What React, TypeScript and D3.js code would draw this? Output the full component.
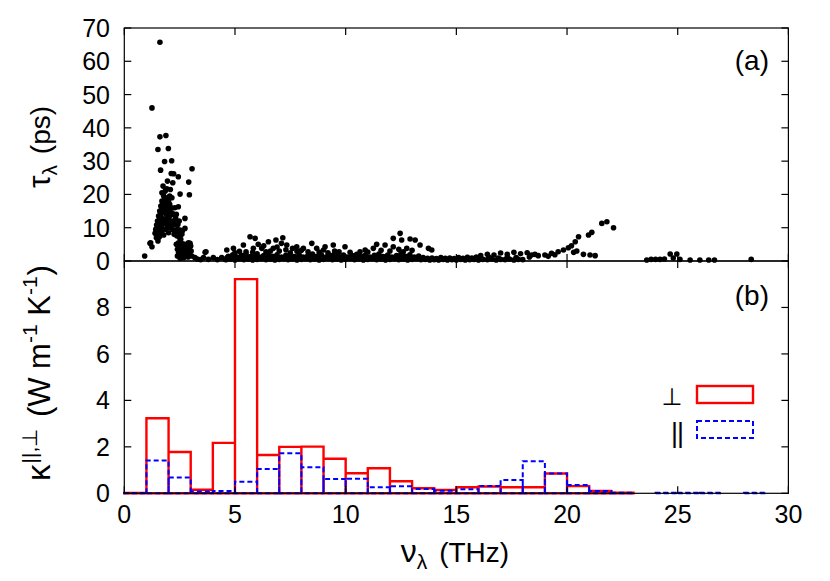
import * as d3 from "d3";

// ---- data ----
// histogram bins (lower edge, THz), width 1 THz
const binLow = [0, 1, 2, 3, 4, 5, 6, 7, 8, 9, 10, 11, 12, 13, 14, 15, 16, 17, 18, 19, 20, 21, 22, 23, 24, 25, 26, 27, 28, 29];
const kappaPerp = [0.01, 3.23, 1.78, 0.15, 2.17, 9.22, 1.65, 2.0, 2.01, 1.49, 0.86, 1.08, 0.52, 0.22, 0.14, 0.26, 0.29, 0.26, 0.26, 0.85, 0.31, 0.1, 0.03, 0, 0, 0, 0, 0, 0, 0];
const kappaPar = [0.01, 1.41, 0.68, 0.08, 0.1, 0.5, 1.05, 1.72, 1.12, 0.62, 0.63, 0.26, 0.3, 0.19, 0.11, 0.17, 0.31, 0.57, 1.38, 0.85, 0.36, 0.1, 0.02, 0, 0.02, 0.02, 0.02, 0, 0.02, 0];

const xTicks = [0, 5, 10, 15, 20, 25, 30];
const tauTicks = [0, 10, 20, 30, 40, 50, 60, 70];
const kappaTicks = [0, 2, 4, 6, 8];

// scattered lifetimes [nu (THz), tau (ps)]
const lowBranch: [number, number][] = [
  [0.92, 1.5], [1.16, 5.3], [1.25, 4.3], [1.19, 5.5], [1.25, 46.0], [1.39, 8.3], [1.42, 9.5], [1.46, 10.8], [1.5, 12.0],
  [1.52, 33.5], [1.55, 13.5], [1.58, 11.5], [1.61, 65.7], [1.61, 37.3], [1.64, 27.3], [1.6, 15.0], [1.62, 9.0], [1.65, 16.5],
  [1.68, 13.0], [1.7, 18.0], [1.72, 11.0], [1.75, 14.5], [1.78, 19.5], [1.8, 16.0], [1.82, 29.9], [1.82, 12.5], [1.85, 21.0],
  [1.85, 9.5], [1.88, 37.7], [1.88, 17.5], [1.9, 14.0], [1.92, 21.7], [1.92, 11.0], [1.95, 19.0], [1.98, 15.5], [1.99, 33.8],
  [2.0, 8.5], [2.02, 13.0], [2.05, 17.0], [2.08, 21.5], [2.1, 10.5], [2.12, 26.3], [2.14, 30.1], [2.15, 14.5], [2.19, 23.5],
  [2.2, 12.0], [2.23, 26.2], [2.25, 8.0], [2.28, 16.0], [2.3, 11.0], [2.35, 14.0], [2.38, 7.5], [2.4, 9.5], [2.44, 25.3],
  [2.44, 16.3], [2.48, 12.0], [2.52, 20.1], [2.52, 9.3], [2.55, 6.5], [2.6, 8.0], [2.74, 12.8], [2.74, 9.8], [2.91, 23.7],
  [2.94, 19.9], [3.06, 27.7], [1.75, 22.5], [1.7, 20.5], [1.95, 24.0], [2.05, 19.5], [1.6, 12.5], [1.55, 9.0], [1.45, 7.0],
  [1.5, 8.0], [1.56, 10.2], [1.63, 14.0], [1.66, 10.0], [1.7, 15.5], [1.73, 17.2], [1.76, 12.0], [1.79, 15.0], [1.83, 18.5],
  [1.86, 14.8], [1.89, 12.0], [1.93, 16.5], [1.96, 13.5], [1.97, 10.0], [2.0, 18.0], [2.03, 15.0], [2.06, 11.5], [2.09, 13.8],
  [2.12, 16.0], [2.15, 19.0], [2.18, 9.5], [2.22, 14.0], [2.26, 11.5], [2.32, 12.8], [2.36, 9.0], [2.42, 11.0], [2.46, 8.2],
  [1.68, 8.5], [1.74, 9.5], [1.78, 7.8], [1.58, 7.2], [1.52, 6.0], [2.5, 7.0], [2.62, 9.0],
  [2.35, 5.0], [2.4, 3.5], [2.45, 2.5], [2.5, 4.5], [2.55, 1.8], [2.6, 3.0], [2.65, 5.2], [2.7, 2.2], [2.75, 4.0], [2.8, 1.5],
  [2.85, 3.3], [2.9, 5.5], [2.95, 2.5], [3.0, 4.5], [3.05, 1.5], [2.97, 5.3], [2.45, 5.5], [2.6, 1.2], [2.8, 5.0], [2.7, 3.8],
  [2.5, 3.2], [2.58, 4.2], [2.68, 1.0], [2.78, 2.8], [2.88, 1.2], [2.92, 4.0], [3.02, 3.0], [2.4, 1.5], [2.52, 0.8],
  [3.19, 1.0], [3.3, 0.6], [3.45, 0.4], [3.58, 1.0], [3.65, 2.6], [3.69, 2.8], [3.8, 0.5], [4.02, 1.0], [4.2, 0.4], [4.4, 1.0], [4.55, 0.5],
];

const midBranch: [number, number][] = [
  [4.63, 3.3], [4.93, 3.8], [5.38, 4.8], [5.68, 7.3], [5.91, 6.8], [5.83, 3.8], [6.51, 5.8], [6.85, 6.3], [7.16, 7.0],
  [6.21, 3.8], [6.73, 3.8], [7.34, 4.8], [7.79, 4.3], [8.09, 3.8], [8.47, 5.3], [8.69, 3.8], [9.07, 4.3], [9.44, 4.8], [9.97, 4.3],
  [5.0, 2.5], [5.5, 2.8], [6.0, 2.2], [6.4, 2.8], [7.0, 3.0], [7.5, 2.5], [8.3, 2.8], [9.2, 2.5], [9.7, 2.8],
  [5.2, 2.9], [5.8, 2.6], [6.6, 3.0], [6.9, 4.2], [7.3, 3.4], [7.8, 2.9], [8.0, 3.2], [8.8, 2.7], [9.0, 3.3], [9.5, 3.0],
  [6.3, 4.6], [7.1, 5.3], [7.6, 3.8], [6.05, 5.0],
  [10.65, 2.8], [10.88, 3.3], [11.25, 3.8], [11.4, 5.0], [11.78, 4.8], [12.15, 4.3], [12.15, 6.8], [12.46, 8.3], [12.53, 6.3],
  [12.76, 3.8], [12.91, 6.6], [13.14, 6.3], [13.36, 4.8], [13.74, 3.8], [13.89, 3.3], [10.2, 2.6], [11.0, 2.7], [11.6, 3.2],
  [12.0, 3.0], [12.4, 3.5], [12.6, 2.8], [13.0, 3.2],
];

const bandLower: [number, number][] = [
  [4.6, 0.4], [4.8, 0.6], [5.0, 0.3], [5.2, 0.7], [5.4, 0.4], [5.6, 0.6], [5.8, 0.3], [6.0, 0.5], [6.2, 0.7], [6.4, 0.4],
  [6.6, 0.6], [6.8, 0.3], [7.0, 0.5], [7.2, 0.7], [7.4, 0.4], [7.6, 0.6], [7.8, 0.3], [8.0, 0.5], [8.2, 0.7], [8.4, 0.4],
  [8.6, 0.6], [8.8, 0.3], [9.0, 0.5], [9.2, 0.7], [9.4, 0.4], [9.6, 0.6], [9.8, 0.3], [10.0, 0.5], [10.2, 0.7], [10.4, 0.4],
  [10.6, 0.6], [10.8, 0.3], [11.0, 0.5], [11.2, 0.7], [11.4, 0.4], [11.6, 0.6], [11.8, 0.3], [12.0, 0.5], [12.2, 0.7], [12.4, 0.4],
  [12.6, 0.6], [12.8, 0.3], [13.0, 0.5], [13.2, 0.7], [13.4, 0.4], [13.6, 0.5], [13.8, 0.3], [14.0, 0.4], [14.2, 0.3], [14.4, 0.5],
  [14.6, 0.3], [14.8, 0.4], [15.0, 0.3], [15.2, 0.5], [15.4, 0.3], [15.6, 0.4], [15.8, 0.5], [16.0, 0.3], [16.2, 0.5], [16.4, 0.4],
  [16.6, 0.6], [16.8, 0.3], [17.0, 0.5], [17.2, 0.4], [17.4, 0.6], [17.6, 0.3], [17.8, 0.5], [18.0, 0.4],
  [13.7, 0.8], [14.1, 0.7], [14.5, 0.8], [14.9, 0.7], [15.3, 0.8], [15.7, 0.9], [16.1, 0.8], [16.5, 1.0], [16.9, 0.9], [17.3, 1.1], [17.7, 1.0],
];

const bandMid: [number, number][] = [
  [4.65, 1.0], [4.85, 1.2], [5.05, 0.9], [5.25, 1.1], [5.45, 1.3], [5.65, 0.9], [5.85, 1.2], [6.05, 1.0], [6.25, 1.3], [6.45, 0.9],
  [6.65, 1.1], [6.85, 1.3], [7.05, 0.9], [7.25, 1.2], [7.45, 1.0], [7.65, 1.3], [7.85, 0.9], [8.05, 1.1], [8.25, 1.2], [8.45, 0.9],
  [8.65, 1.1], [8.85, 1.3], [9.05, 0.9], [9.25, 1.2], [9.45, 1.0], [9.65, 1.3], [9.85, 0.9], [10.05, 1.1], [10.25, 1.2], [10.45, 0.9],
  [10.65, 1.1], [10.85, 1.3], [11.05, 0.9], [11.25, 1.2], [11.45, 1.0], [11.65, 1.3], [11.85, 0.9], [12.05, 1.1], [12.25, 1.2], [12.45, 0.9],
  [12.65, 1.1], [12.85, 1.3], [13.05, 0.9], [13.25, 1.0],
];

const bandUpper: [number, number][] = [
  [4.7, 1.4], [4.9, 1.9], [5.1, 1.2], [5.3, 1.7], [5.5, 2.1], [5.7, 1.3], [5.9, 1.8], [6.1, 1.1], [6.3, 1.6], [6.5, 2.2],
  [6.7, 1.4], [6.9, 1.9], [7.1, 1.2], [7.3, 1.7], [7.5, 2.0], [7.7, 1.3], [7.9, 1.8], [8.1, 1.1], [8.3, 1.6], [8.5, 2.1],
  [8.7, 1.4], [8.9, 1.9], [9.1, 1.2], [9.3, 1.7], [9.5, 2.0], [9.7, 1.3], [9.9, 1.8], [10.1, 1.1], [10.3, 1.6], [10.5, 2.0],
  [10.7, 1.4], [10.9, 1.9], [11.1, 1.2], [11.3, 1.7], [11.5, 2.1], [11.7, 1.3], [11.9, 1.8], [12.1, 1.1], [12.3, 1.6], [12.5, 2.2],
  [12.7, 1.4], [12.9, 1.9], [13.1, 1.2], [13.3, 1.5], [13.5, 1.0], [13.9, 0.9], [14.3, 1.0], [14.7, 0.9], [15.1, 1.0], [15.5, 1.1],
  [15.9, 1.2], [16.1, 1.6], [16.4, 2.0], [16.7, 1.8], [17.0, 2.4], [17.3, 2.0], [17.6, 2.6], [17.9, 2.2], [18.2, 2.5],
];

const highBranch: [number, number][] = [
  [18.4, 1.8], [19.0, 1.8], [19.3, 2.3], [19.6, 2.8], [19.84, 3.3], [20.06, 4.0], [20.37, 5.8], [20.52, 7.3], [20.97, 7.8],
  [21.12, 8.6], [21.57, 11.3], [21.8, 11.8], [22.1, 10.0], [20.44, 3.0], [20.74, 2.0], [21.04, 1.8], [21.27, 1.6], [18.7, 1.6],
  [18.3, 1.2], [18.55, 2.0], [19.15, 1.4], [19.45, 1.9], [20.2, 4.6], [20.3, 2.6],
  [23.6, 0.3], [23.8, 0.5], [24.0, 0.5], [24.2, 0.5], [24.4, 0.6], [24.66, 2.1], [24.96, 2.1], [24.8, 0.9], [25.1, 0.5],
  [25.56, 0.3], [26.0, 0.3], [26.4, 0.3], [26.66, 0.3], [28.32, 0.5],
];

const FONT = "'Liberation Sans', Arial, Helvetica, sans-serif";

const App = () => {
  const W = 830, H = 581;
  const left = 124.3, right = 788.4;
  const topA = 28, midY = 261, botB = 493.3;
  const tick = 7;

  const x = d3.scaleLinear().domain([0, 30]).range([left, right]);
  const yA = d3.scaleLinear().domain([0, 70]).range([midY, topA]);
  const yB = d3.scaleLinear().domain([0, 10]).range([botB, midY]);

  const points = [...lowBranch, ...midBranch, ...bandLower, ...bandMid, ...bandUpper, ...highBranch];

  const boxPath = (vals: number[]) =>
    binLow
      .map((b, i) => {
        if (vals[i] <= 0) return "";
        const x0 = x(b), x1 = x(b + 1), y0 = yB(0), y1 = yB(vals[i]);
        return `M${x0},${y0}V${y1}H${x1}V${y0}Z`;
      })
      .join("");

  return (
    <svg width={W} height={H} style={{ position: "absolute", left: 0, top: 0, background: "#fff" }} fontFamily={FONT}>
      {/* panel (a) scatter */}
      <g fill="#000">
        {points.map((p, i) => (
          <circle key={i} cx={x(p[0])} cy={yA(p[1])} r={2.8} />
        ))}
      </g>

      {/* panel (b) histogram */}
      <path d={boxPath(kappaPerp)} fill="none" stroke="#ff0000" strokeWidth={2.4} />
      <path d={boxPath(kappaPar)} fill="none" stroke="#0000ff" strokeWidth={2} strokeDasharray="5,3" />

      {/* frames */}
      <rect x={left} y={topA} width={right - left} height={midY - topA} fill="none" stroke="#000" strokeWidth={1.2} />
      <rect x={left} y={midY} width={right - left} height={botB - midY} fill="none" stroke="#000" strokeWidth={1.2} />

      {/* ticks */}
      <g stroke="#000" strokeWidth={1.2}>
        {xTicks.map((t) => (
          <g key={"x" + t}>
            <line x1={x(t)} x2={x(t)} y1={topA} y2={topA + tick} />
            <line x1={x(t)} x2={x(t)} y1={midY} y2={midY - tick} />
            <line x1={x(t)} x2={x(t)} y1={midY} y2={midY + tick} />
            <line x1={x(t)} x2={x(t)} y1={botB} y2={botB - tick} />
          </g>
        ))}
        {tauTicks.map((t) => (
          <g key={"ya" + t}>
            <line x1={left} x2={left + tick} y1={yA(t)} y2={yA(t)} />
            <line x1={right} x2={right - tick} y1={yA(t)} y2={yA(t)} />
          </g>
        ))}
        {kappaTicks.map((t) => (
          <g key={"yb" + t}>
            <line x1={left} x2={left + tick} y1={yB(t)} y2={yB(t)} />
            <line x1={right} x2={right - tick} y1={yB(t)} y2={yB(t)} />
          </g>
        ))}
      </g>

      {/* tick labels */}
      <g fontSize={25} fill="#000">
        {tauTicks.map((t) => (
          <text key={"la" + t} x={110} y={yA(t)} dy="0.36em" textAnchor="end">{t}</text>
        ))}
        {kappaTicks.map((t) => (
          <text key={"lb" + t} x={110} y={yB(t)} dy="0.36em" textAnchor="end">{t}</text>
        ))}
        {xTicks.map((t) => (
          <text key={"lx" + t} x={x(t)} y={523} textAnchor="middle">{t}</text>
        ))}
      </g>

      {/* axis titles */}
      <text x={455} y={562} textAnchor="middle" fontSize={28}>
        <tspan fontSize={32}>ν</tspan><tspan fontSize={21} dy={7}>λ</tspan><tspan dy={-7} dx={4}> (THz)</tspan>
      </text>
      <text transform="translate(50,147) rotate(-90)" textAnchor="middle" fontSize={28}>
        <tspan fontSize={32}>τ</tspan><tspan fontSize={21} dy={7}>λ</tspan><tspan dy={-7} dx={3}> (ps)</tspan>
      </text>
      <text transform="translate(50,373) rotate(-90)" textAnchor="middle" fontSize={31}>
        <tspan fontSize={33}>κ</tspan><tspan fontSize={21} dy={-13} dx={1}>||,⊥</tspan><tspan dy={13} dx={3}> (W m</tspan>
        <tspan fontSize={21} dy={-13}>-1</tspan><tspan dy={13}> K</tspan>
        <tspan fontSize={21} dy={-13}>-1</tspan><tspan dy={13} dx={1}>)</tspan>
      </text>

      {/* panel labels */}
      <text x={769} y={70} textAnchor="end" fontSize={28}>(a)</text>
      <text x={769} y={305} textAnchor="end" fontSize={28}>(b)</text>

      {/* legend */}
      <text x={672} y={405} textAnchor="middle" fontSize={24} fontFamily="'DejaVu Sans', sans-serif">⊥</text>
      <text x={677} y={442} textAnchor="middle" fontSize={27} letterSpacing={-1}>||</text>
      <rect x={697} y={386} width={56} height={17} fill="none" stroke="#ff0000" strokeWidth={2.4} />
      <rect x={697} y={421} width={56} height={17} fill="none" stroke="#0000ff" strokeWidth={2} strokeDasharray="5,3" />
    </svg>
  );
};

export default App;
